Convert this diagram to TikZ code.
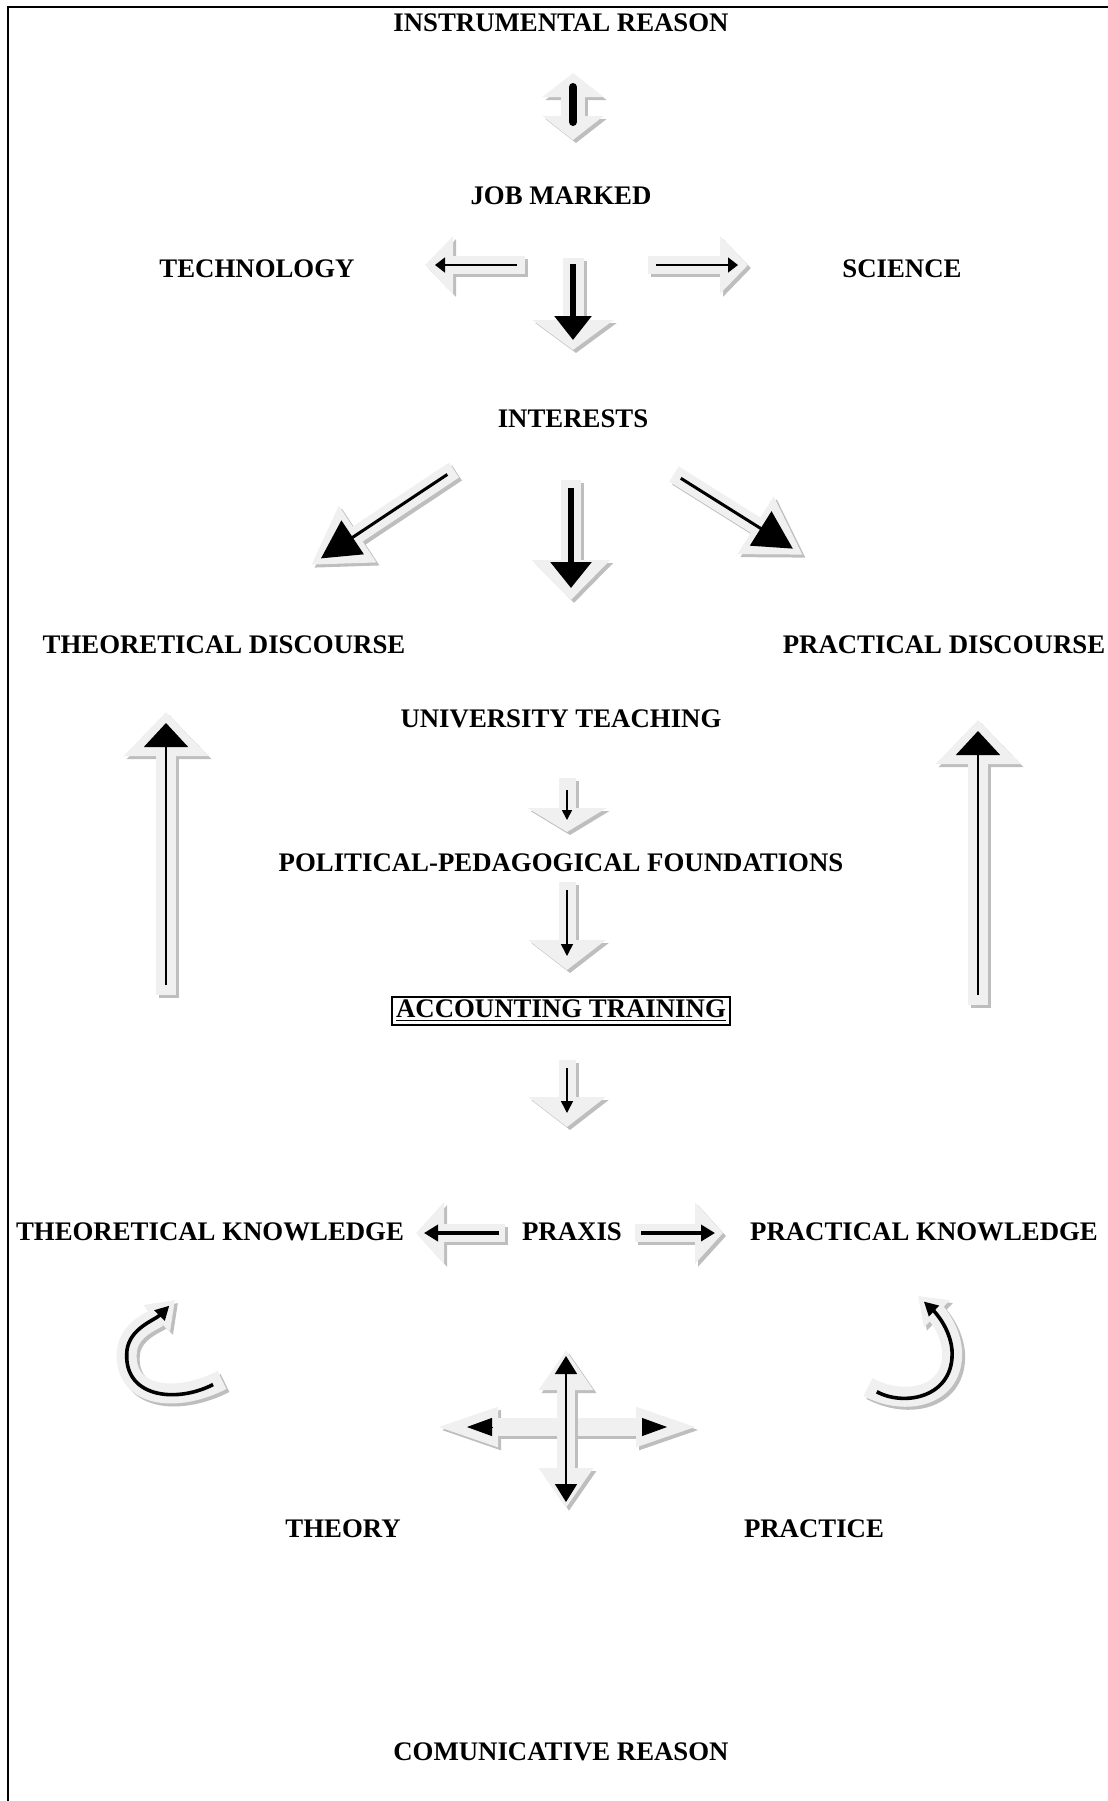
\documentclass[tikz,border=0pt]{standalone}
\usepackage{fontspec}
\setmainfont{Liberation Serif}
\usetikzlibrary{arrows.meta}
\definecolor{bodygray}{HTML}{F0F0F0}
\definecolor{shadegray}{HTML}{BEBEBE}
% block arrow: light body, grey drop shadow, black core
\newcommand\fatarrow[3]{%
  \draw[arrshadow,#2] #1;
  \draw[arrbody,#2] #1;
  \draw[arrcore,#3] #1;}

\begin{document}
\begin{tikzpicture}[x=0.5pt, y=-0.5pt,
  txt/.style={font=\bfseries\fontsize{13.4}{15}\selectfont, inner sep=1pt},
  arrshadow/.style={draw=shadegray, transform canvas={xshift=1.5pt,yshift=-1.5pt}},
  arrbody/.style={draw=bodygray},
  arrcore/.style={draw=black}]
  \useasboundingbox (0,0) rectangle (1108,1801);
  \draw[line width=1pt] (1108,6.5) -- (8,6.5) -- (8,1801);

  % texts
  \node[txt] (ir)       at (561,23)   {INSTRUMENTAL REASON};
  \node[txt] (job)      at (561,196)  {JOB MARKED};
  \node[txt] (tech)     at (257,269)  {TECHNOLOGY};
  \node[txt] (sci)      at (902,269)  {SCIENCE};
  \node[txt] (int)      at (573,419)  {INTERESTS};
  \node[txt] (tdis)     at (224,645)  {THEORETICAL DISCOURSE};
  \node[txt] (pdis)     at (944,645)  {PRACTICAL DISCOURSE};
  \node[txt] (ut)       at (561,719)  {UNIVERSITY TEACHING};
  \node[txt] (ppf)      at (561,863)  {POLITICAL-PEDAGOGICAL FOUNDATIONS};
  \node[txt, draw, line width=0.8pt, inner xsep=2pt, inner ysep=1.5pt]
             (acc)      at (561,1011) {\underline{ACCOUNTING TRAINING}};
  \node[txt] (tk)       at (210,1232) {THEORETICAL KNOWLEDGE};
  \node[txt] (praxis)   at (572,1232) {PRAXIS};
  \node[txt] (pk)       at (924,1232) {PRACTICAL KNOWLEDGE};
  \node[txt] (theory)   at (343,1529) {THEORY};
  \node[txt] (practice) at (814,1529) {PRACTICE};
  \node[txt] (cr)       at (561,1752) {COMUNICATIVE REASON};

  % arrow ends
  \coordinate (ud1) at (573,73);   \coordinate (ud2) at (573,140);
  \coordinate (te1) at (525,265);  \coordinate (te2) at (425,265);
  \coordinate (sc1) at (648,265);  \coordinate (sc2) at (748,265);
  \coordinate (jd1) at (573,258);  \coordinate (jd2) at (573,350);
  \coordinate (il1) at (454,470);  \coordinate (il2) at (311,565);
  \coordinate (im1) at (571,480);  \coordinate (im2) at (571,600);
  \coordinate (ir1) at (674,474);  \coordinate (ir2) at (803,555);
  \coordinate (lu1) at (166,995);  \coordinate (lu2) at (166,712);
  \coordinate (ru1) at (978,1005); \coordinate (ru2) at (978,720);
  \coordinate (d11) at (567,778);  \coordinate (d12) at (567,832);
  \coordinate (d21) at (567,882);  \coordinate (d22) at (567,970);
  \coordinate (d31) at (567,1060); \coordinate (d32) at (567,1127);
  \coordinate (pl1) at (505,1233); \coordinate (pl2) at (416,1233);
  \coordinate (pr1) at (635,1233); \coordinate (pr2) at (723,1233);
  \coordinate (cl1) at (222,1380); \coordinate (cl2) at (175,1300);
  \coordinate (cr1) at (868,1387); \coordinate (cr2) at (918,1296);
  \coordinate (xv1) at (566,1508); \coordinate (xv2) at (566,1350);
  \coordinate (xh1) at (430,1427); \coordinate (xh2) at (704,1427);
  \coordinate (xl1) at (492,1427); \coordinate (xl2) at (467,1427);
  \coordinate (xr1) at (642,1427); \coordinate (xr2) at (667,1427);

  % arrows
  \fatarrow{(ud2) -- (ud1)}{line width=12pt, {Triangle[width=30pt,length=12pt]}-{Triangle[width=30pt,length=12pt]}}
    {line width=4pt, line cap=round, shorten <=9pt, shorten >=7pt}
  \fatarrow{(te1) -- (te2)}{line width=9pt, -{Triangle[width=28pt,length=14pt]}}
    {line width=0.8pt, -{Triangle[width=7.5pt,length=5pt]}, shorten <=4pt, shorten >=5pt}
  \fatarrow{(sc1) -- (sc2)}{line width=9pt, -{Triangle[width=28pt,length=14pt]}}
    {line width=0.8pt, -{Triangle[width=7.5pt,length=5pt]}, shorten <=4pt, shorten >=5pt}
  \fatarrow{(jd1) -- (jd2)}{line width=10.5pt, -{Triangle[width=40pt,length=15pt]}}
    {line width=3pt, -{Triangle[width=18pt,length=12pt]}, shorten <=3pt, shorten >=5pt}
  \fatarrow{(il1) -- (il2)}{line width=9pt, -{Triangle[width=32pt,length=28pt]}}
    {line width=1.5pt, -{Triangle[width=20pt,length=19pt]}, shorten <=4pt, shorten >=6pt}
  \fatarrow{(im1) -- (im2)}{line width=10pt, -{Triangle[width=38pt,length=20pt]}}
    {line width=3pt, -{Triangle[width=20pt,length=13pt]}, shorten <=4pt, shorten >=6pt}
  \fatarrow{(ir1) -- (ir2)}{line width=9pt, -{Triangle[width=32pt,length=28pt]}}
    {line width=1.5pt, -{Triangle[width=20pt,length=19pt]}, shorten <=4pt, shorten >=6pt}
  \fatarrow{(lu1) -- (lu2)}{line width=10pt, -{Triangle[width=41pt,length=22pt]}}
    {line width=1pt, -{Triangle[width=22pt,length=12pt]}, shorten <=5pt, shorten >=5.5pt}
  \fatarrow{(ru1) -- (ru2)}{line width=10pt, -{Triangle[width=41pt,length=22pt]}}
    {line width=1pt, -{Triangle[width=22pt,length=12pt]}, shorten <=5pt, shorten >=5.5pt}
  \fatarrow{(d11) -- (d12)}{line width=8.5pt, -{Triangle[width=39pt,length=12pt]}}
    {line width=0.8pt, -{Triangle[width=5pt,length=5pt]}, shorten <=6pt, shorten >=6pt}
  \fatarrow{(d21) -- (d22)}{line width=8.5pt, -{Triangle[width=38pt,length=15pt]}}
    {line width=0.8pt, -{Triangle[width=6pt,length=6pt]}, shorten <=4pt, shorten >=7pt}
  \fatarrow{(d31) -- (d32)}{line width=8.5pt, -{Triangle[width=38pt,length=15pt]}}
    {line width=0.8pt, -{Triangle[width=6pt,length=6pt]}, shorten <=4pt, shorten >=7pt}
  \fatarrow{(pl1) -- (pl2)}{line width=9pt, -{Triangle[width=30pt,length=14pt]}}
    {line width=2pt, -{Triangle[width=8pt,length=7pt]}, shorten <=3pt, shorten >=4pt}
  \fatarrow{(pr1) -- (pr2)}{line width=9pt, -{Triangle[width=30pt,length=14pt]}}
    {line width=2pt, -{Triangle[width=8pt,length=7pt]}, shorten <=3pt, shorten >=4pt}
  \fatarrow{(cl1) .. controls (175,1404) and (122,1397) .. (127,1350) .. controls (130,1328) and (155,1320) .. (cl2)}
    {line width=10pt, -{Triangle[width=18pt,length=13pt]}}
    {line width=1.8pt, -{Triangle[width=7pt,length=7pt]}, shorten <=5pt, shorten >=4pt}
  \fatarrow{(cr1) .. controls (905,1407) and (955,1397) .. (952,1350) .. controls (950,1328) and (935,1312) .. (cr2)}
    {line width=10pt, -{Triangle[width=18pt,length=13pt]}}
    {line width=1.8pt, -{Triangle[width=7pt,length=7pt]}, shorten <=5pt, shorten >=4pt}
  \fatarrow{(xh1) -- (xh2)}{line width=9pt, {Triangle[width=17pt,length=34pt]}-{Triangle[width=17pt,length=34pt]}}
    {draw=none}
  \draw[arrcore, -{Triangle[width=9pt,length=12.5pt]}] (xl1) -- (xl2);
  \draw[arrcore, -{Triangle[width=9pt,length=12.5pt]}] (xr1) -- (xr2);
  \fatarrow{(xv1) -- (xv2)}{line width=9pt, {Triangle[width=26pt,length=20pt]}-{Triangle[width=26pt,length=20pt]}}
    {line width=0.8pt, {Triangle[width=11pt,length=9pt]}-{Triangle[width=11pt,length=9pt]}, shorten <=3pt, shorten >=3pt}
\end{tikzpicture}
\end{document}
